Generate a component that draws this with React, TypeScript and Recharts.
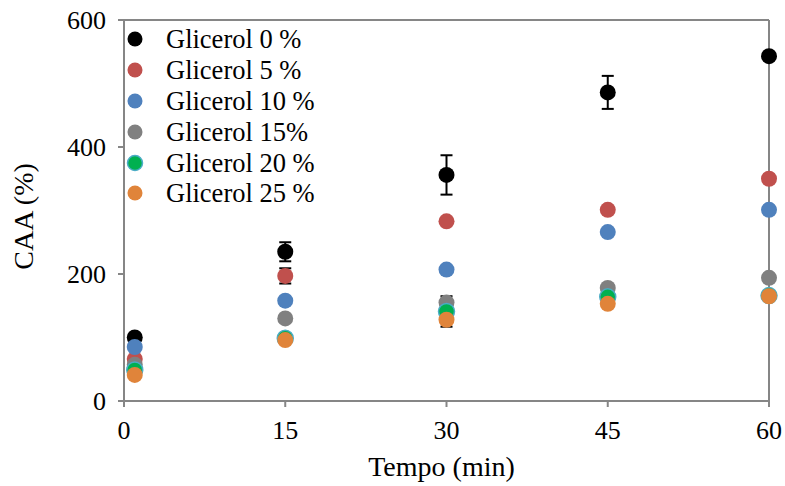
import {
  ScatterChart,
  Scatter,
  XAxis,
  YAxis,
  ErrorBar,
  Legend,
  ReferenceLine,
} from 'recharts';

// Tempo (min)
const times = [1, 15, 30, 45, 60];
const xTicks = [0, 15, 30, 45, 60];
const yTicks = [0, 200, 400, 600];

// CAA (%) per glycerol content
const glicerol0 = [100, 235, 356, 486, 543];
const glicerol0Err = [0, 15, 31, 26, 0];
const glicerol5 = [66, 197, 283, 301, 350];
const glicerol5Err = [0, 12, 0, 0, 0];
const glicerol10 = [85, 158, 207, 266, 301];
const glicerol15 = [57, 130, 155, 178, 194];
const glicerol20 = [49, 99, 141, 164, 166];
const glicerol20Err = [0, 0, 24, 0, 0];
const glicerol25 = [41, 96, 128, 153, 165];

const FONT = 'Liberation Serif';
const AXIS = '#868686';

const toPoints = (values: number[], errs?: number[]) =>
  times.map((t, i) => ({ t, v: values[i], err: errs ? errs[i] : 0 }));

const series = [
  { name: 'Glicerol 0 %', data: toPoints(glicerol0, glicerol0Err), fill: '#000000', stroke: 'none', err: true },
  { name: 'Glicerol 5 %', data: toPoints(glicerol5, glicerol5Err), fill: '#C0504D', stroke: 'none', err: true },
  { name: 'Glicerol 10 %', data: toPoints(glicerol10), fill: '#4F81BD', stroke: 'none', err: false },
  { name: 'Glicerol 15%', data: toPoints(glicerol15), fill: '#808080', stroke: 'none', err: false },
  { name: 'Glicerol 20 %', data: toPoints(glicerol20, glicerol20Err), fill: '#00B050', stroke: '#4BACC6', err: true },
  { name: 'Glicerol 25 %', data: toPoints(glicerol25), fill: '#E0843A', stroke: 'none', err: false },
];

function renderLegend() {
  return (
    <div style={{ fontFamily: FONT, fontSize: 26.5, color: '#000' }}>
      {series.map((s) => (
        <div key={s.name} style={{ display: 'flex', alignItems: 'center', height: 30.8 }}>
          <svg width={18} height={18} style={{ marginRight: 22 }}>
            <circle cx={9} cy={9} r={7.5} fill={s.fill} stroke={s.stroke} strokeWidth={1.5} />
          </svg>
          <span style={{ lineHeight: '30px', fontFamily: FONT }}>{s.name}</span>
        </div>
      ))}
    </div>
  );
}

export default function App() {
  return (
    <div style={{ position: 'absolute', left: 0, top: 0, background: '#fff', fontFamily: FONT }}>
      <ScatterChart width={785} height={486} margin={{ top: 20, right: 16, left: 0, bottom: 0 }}>
        <XAxis
          type="number"
          dataKey="t"
          domain={[0, 60]}
          ticks={xTicks}
          tickSize={6}
          tickMargin={14}
          stroke={AXIS}
          strokeWidth={2}
          height={85}
          tick={{ fill: '#000', fontFamily: FONT, fontSize: 26 }}
          label={{ value: 'Tempo (min)', position: 'insideBottom', offset: 10, dx: -5, fill: '#000', fontFamily: FONT, fontSize: 28 }}
        />
        <YAxis
          type="number"
          dataKey="v"
          domain={[0, 600]}
          ticks={yTicks}
          tickSize={6}
          tickMargin={12}
          stroke={AXIS}
          strokeWidth={2}
          width={124}
          tick={{ fill: '#000', fontFamily: FONT, fontSize: 26 }}
          label={{ value: 'CAA (%)', angle: -90, position: 'center', dx: -39, dy: 6, fill: '#000', fontFamily: FONT, fontSize: 28 }}
        />
        <ReferenceLine y={600} stroke={AXIS} strokeWidth={2} />
        <ReferenceLine x={60} stroke={AXIS} strokeWidth={2} />
        <Legend
          content={renderLegend}
          layout="vertical"
          align="center"
          verticalAlign="middle"
          wrapperStyle={{ left: 126, top: 24, width: 'auto' }}
        />
        {series.map((s) => (
          <Scatter
            key={s.name}
            name={s.name}
            data={s.data}
            fill={s.fill}
            isAnimationActive={false}
            shape={(p: any) => (
              <circle cx={p.cx} cy={p.cy} r={8} fill={s.fill} stroke={s.stroke} strokeWidth={1.5} />
            )}
          >
            {s.err && <ErrorBar dataKey="err" direction="y" width={6} stroke="#000" strokeWidth={2} />}
          </Scatter>
        ))}
      </ScatterChart>
    </div>
  );
}
